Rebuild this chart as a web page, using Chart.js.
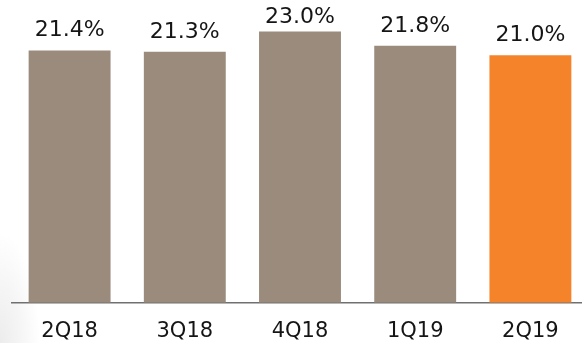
<!DOCTYPE html>
<html>
<head>
<meta charset="utf-8">
<script src="https://cdn.jsdelivr.net/npm/chart.js@4/dist/chart.umd.min.js"></script>
<style>
  html, body { margin: 0; padding: 0; overflow: hidden; }
  body {
    width: 582px; height: 343px;
    background: radial-gradient(ellipse 40px 110px at 0px 343px, #ececec 0%, #f6f6f6 55%, #ffffff 100%);
  }
  #wrap { position: absolute; left: 0; top: 0; width: 600px; height: 343px; }
</style>
</head>
<body>
<div id="wrap"><canvas id="grafico" width="600" height="343"></canvas></div>
<script>
const trimestres = ['2Q18', '3Q18', '4Q18', '1Q19', '2Q19']
const valores = [21.4, 21.3, 23.0, 21.8, 21.0]
const cores = ['#9a8b7c', '#9a8b7c', '#9a8b7c', '#9a8b7c', '#f5832a']

const rotulos = {
    id: 'rotulos',
    afterDatasetsDraw(chart) {
        const ctx = chart.ctx
        const meta = chart.getDatasetMeta(0)
        ctx.save()
        ctx.font = '22px "DejaVu Sans"'
        ctx.fillStyle = '#151515'
        ctx.textAlign = 'center'
        ctx.textBaseline = 'alphabetic'
        meta.data.forEach((barra, i) => {
            // labels never go above the top line
            const y = Math.max(barra.y - 14, 23)
            ctx.fillText(valores[i].toFixed(1) + '%', barra.x, y)
        })
        ctx.restore()
    }
}

const ctx = document.getElementById('grafico').getContext('2d')

const grafico = new Chart(ctx, {
    type: 'bar',
    data: {
        labels: trimestres,
        datasets: [{
            data: valores,
            backgroundColor: cores,
            barPercentage: 0.711,
            categoryPercentage: 1
        }]
    },
    options: {
        responsive: false,
        animation: false,
        maintainAspectRatio: false,
        layout: { padding: { left: 12, right: 12, top: 8, bottom: -9 } },
        plugins: { legend: { display: false }, tooltip: { enabled: false } },
        scales: {
            x: {
                grid: { display: false },
                border: { display: true, color: '#707070', width: 1.5 },
                ticks: {
                    padding: 8,
                    maxRotation: 0,
                    color: '#151515',
                    font: { family: 'DejaVu Sans', size: 21 }
                }
            },
            y: {
                display: false,
                min: 0,
                max: 25
            }
        }
    },
    plugins: [rotulos]
})
</script>
</body>
</html>
